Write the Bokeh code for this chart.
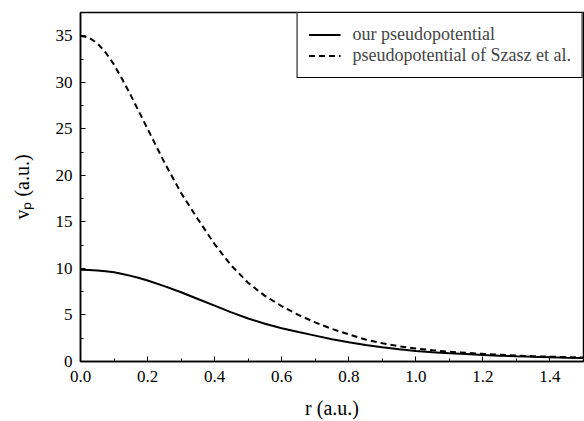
from bokeh.plotting import figure
from bokeh.models import FixedTicker, Legend, LegendItem, ColumnDataSource, InlineStyleSheet
from bokeh.embed import file_html
from bokeh.resources import INLINE

# ---- data ----
r_values = [0.0, 0.025, 0.05, 0.075, 0.1, 0.125, 0.15, 0.175, 0.2, 0.25, 0.3, 0.35, 0.4,
            0.45, 0.5, 0.55, 0.6, 0.65, 0.7, 0.75, 0.8, 0.85, 0.9, 0.95, 1.0, 1.05, 1.1,
            1.15, 1.2, 1.25, 1.3, 1.35, 1.4, 1.45, 1.5]
our_pp = [9.85, 9.83, 9.78, 9.69, 9.58, 9.41, 9.2, 8.97, 8.7, 8.1, 7.44, 6.72, 6.0,
          5.28, 4.62, 4.06, 3.58, 3.16, 2.78, 2.4, 2.07, 1.77, 1.52, 1.31, 1.14, 1.0, 0.89,
          0.8, 0.71, 0.63, 0.56, 0.5, 0.45, 0.41, 0.38]
szasz_pp = [35.0, 34.8, 34.2, 33.2, 31.9, 30.3, 28.6, 26.8, 25.0, 21.4, 18.1, 15.3, 12.6,
            10.3, 8.45, 7.05, 5.95, 5.0, 4.2, 3.5, 2.92, 2.36, 1.96, 1.64, 1.4, 1.21, 1.05,
            0.93, 0.82, 0.72, 0.64, 0.57, 0.52, 0.47, 0.43]

x_ticks = [0.0, 0.2, 0.4, 0.6, 0.8, 1.0, 1.2, 1.4]
x_minor = [0.1, 0.3, 0.5, 0.7, 0.9, 1.1, 1.3, 1.5]
y_ticks = [0, 5, 10, 15, 20, 25, 30, 35]
y_minor = [2.5, 7.5, 12.5, 17.5, 22.5, 27.5, 32.5]
legend_labels = ["our pseudopotential", "pseudopotential of Szasz et al."]
x_label = "r (a.u.)"
y_label = "v\u209a (a.u.)"

FONT = "Liberation Serif"

src = ColumnDataSource(data=dict(r=r_values, ours=our_pp, szasz=szasz_pp))

p = figure(width=584, height=421, x_range=(0, 1.5), y_range=(0, 37.5),
           output_backend="svg", toolbar_location=None,
           min_border_left=80, min_border_right=1, min_border_top=12, min_border_bottom=60)
p.stylesheets = [InlineStyleSheet(css="text { font-family: 'Liberation Serif', 'DejaVu Serif', serif !important; }")]

p.xgrid.visible = False
p.ygrid.visible = False
p.outline_line_color = "black"
p.outline_line_width = 1.5
p.outline_line_alpha = 1.0

l1 = p.line("r", "ours", source=src, line_color="black", line_width=2)
l2 = p.line("r", "szasz", source=src, line_color="black", line_width=2, line_dash="6 4")

xax = p.xaxis[0]
yax = p.yaxis[0]
xax.ticker = FixedTicker(ticks=x_ticks, minor_ticks=x_minor)
yax.ticker = FixedTicker(ticks=y_ticks, minor_ticks=y_minor)
xax.major_label_overrides = {t: f"{t:.1f}" for t in x_ticks}

for ax in (xax, yax):
    ax.axis_line_color = "black"
    ax.axis_line_width = 1.5
    ax.major_tick_in = 5
    ax.major_tick_out = 0
    ax.minor_tick_in = 3
    ax.minor_tick_out = 0
    ax.major_tick_line_color = "black"
    ax.minor_tick_line_color = "black"
    ax.major_label_text_font = FONT
    ax.major_label_text_font_size = "17px"
    ax.major_label_text_font_style = "normal"
    ax.major_label_text_color = "black"
    ax.axis_label_text_font = FONT
    ax.axis_label_text_font_size = "20px"
    ax.axis_label_text_font_style = "normal"
    ax.axis_label_text_color = "black"

xax.major_label_standoff = 9
yax.major_label_standoff = 8
xax.axis_label = x_label
yax.axis_label = y_label
xax.axis_label_standoff = 12
yax.axis_label_standoff = 20

legend = Legend(items=[LegendItem(label=legend_labels[0], renderers=[l1]),
                       LegendItem(label=legend_labels[1], renderers=[l2])],
                location="top_right", margin=0, padding=11, spacing=0,
                glyph_width=32, glyph_height=17, label_height=17, label_standoff=12,
                label_text_font=FONT, label_text_font_size="18px",
                border_line_color="black", border_line_width=1.5, border_line_alpha=1.0,
                background_fill_color="white", background_fill_alpha=1.0)
p.add_layout(legend)

open("out.html", "w").write(file_html(p, INLINE))
